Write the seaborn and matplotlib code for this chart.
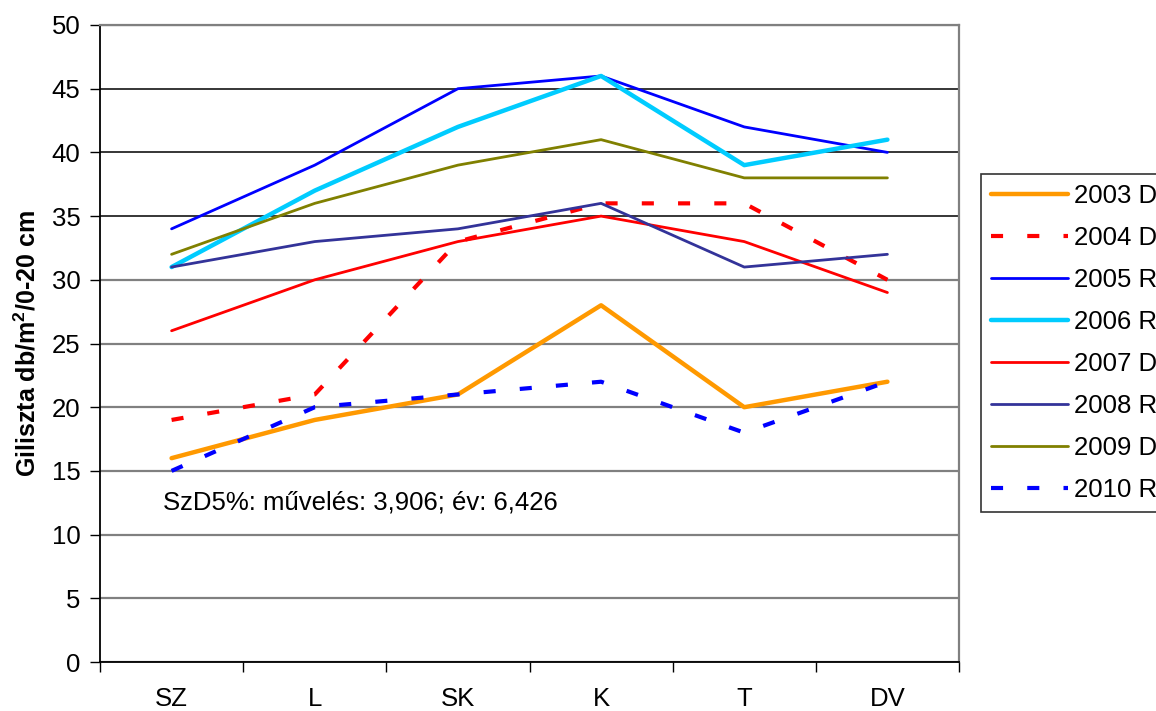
import matplotlib
matplotlib.use("Agg")
import matplotlib.pyplot as plt
import seaborn as sns
import pandas as pd

# data
categories = ["SZ", "L", "SK", "K", "T", "DV"]
series_names = ["2003 D", "2004 D", "2005 R", "2006 R", "2007 D", "2008 R", "2009 D", "2010 R"]
y2003 = [16, 19, 21, 28, 20, 22]
y2004 = [19, 21, 33, 36, 36, 30]
y2005 = [34, 39, 45, 46, 42, 40]
y2006 = [31, 37, 42, 46, 39, 41]
y2007 = [26, 30, 33, 35, 33, 29]
y2008 = [31, 33, 34, 36, 31, 32]
y2009 = [32, 36, 39, 41, 38, 38]
y2010 = [15, 20, 21, 22, 18, 22]
yticks = [0, 5, 10, 15, 20, 25, 30, 35, 40, 45, 50]
note = "SzD5%: művelés: 3,906; év: 6,426"

values = [y2003, y2004, y2005, y2006, y2007, y2008, y2009, y2010]
colors = ["#FF9900", "#FF0000", "#0000FF", "#00CCFF", "#FF0000", "#333399", "#808000", "#0000FF"]
widths = [3.2, 3.0, 2.0, 3.2, 2.0, 2.0, 2.0, 3.0]
dashed = [False, True, False, False, False, False, False, True]

FS = 18.5

sns.set_theme(style="white")
plt.rcParams['font.family'] = ['Liberation Sans', 'DejaVu Sans']
plt.rcParams['mathtext.fontset'] = 'custom'
plt.rcParams['mathtext.bf'] = 'Liberation Sans:bold'
plt.rcParams['mathtext.rm'] = 'Liberation Sans'
for k in ['text.color', 'axes.labelcolor', 'xtick.color', 'ytick.color']:
    plt.rcParams[k] = 'black'

fig = plt.figure(figsize=(11.56, 7.11), dpi=100)
ax = fig.add_axes([100 / 1156, 1 - 662 / 711, 859 / 1156, 637 / 711])

for name, vals, c, lw, d in zip(series_names, values, colors, widths, dashed):
    df = pd.DataFrame({"cat": categories, "val": vals})
    sns.lineplot(data=df, x="cat", y="val", ax=ax, color=c, linewidth=lw,
                 label=name, sort=False)
    ln = ax.get_lines()[-1]
    if d:
        ln.set_dashes((2.9, 5.8))
        ln.set_dash_capstyle('butt')
    ln.set_solid_capstyle('round')

ax.set_xlim(-0.5, len(categories) - 0.5)
ax.set_ylim(0, 50)
ax.set_yticks(yticks)
ax.set_yticklabels([str(t) for t in yticks])
ax.set_xticks(range(len(categories)))
ax.set_xticklabels(categories)
ax.set_xticks([i - 0.5 for i in range(len(categories) + 1)], minor=True)
ax.tick_params(axis='x', which='major', length=0, pad=18, labelsize=FS)
ax.tick_params(axis='x', which='minor', length=7, width=1, color='black', bottom=True)
ax.tick_params(axis='y', length=7, width=1, color='black', left=True, pad=7, labelsize=FS)
ax.set_xlabel("")
ax.set_ylabel(r"Giliszta db/m$^\mathbf{2}$/0-20 cm", fontsize=18, fontweight='bold', labelpad=8)

# gridlines: Excel-like, some rendered darker
ax.yaxis.grid(True, zorder=0)
for t, gl in zip(yticks, ax.get_ygridlines()):
    if t in (35, 40, 45):
        gl.set_color('black')
        gl.set_linewidth(1.1)
    else:
        gl.set_color('#808080')
        gl.set_linewidth(1.6)
ax.set_axisbelow(True)

for s in ['top', 'right']:
    ax.spines[s].set_color('#808080')
    ax.spines[s].set_linewidth(1.6)
for s in ['left', 'bottom']:
    ax.spines[s].set_color('black')
    ax.spines[s].set_linewidth(1.3)

ax.text(-0.06, 12.5, note, fontsize=FS, va='center', ha='left')

leg = ax.legend(loc='upper left', bbox_to_anchor=(981 / 1156, 1 - 174 / 711),
                bbox_transform=fig.transFigure, fontsize=FS, frameon=True,
                fancybox=False, handlelength=3.0, handletextpad=0.2,
                labelspacing=0.7, borderpad=0.4, borderaxespad=0)
leg.get_frame().set_edgecolor('black')
leg.get_frame().set_linewidth(1.2)

plt.savefig("out.png", dpi=100)
